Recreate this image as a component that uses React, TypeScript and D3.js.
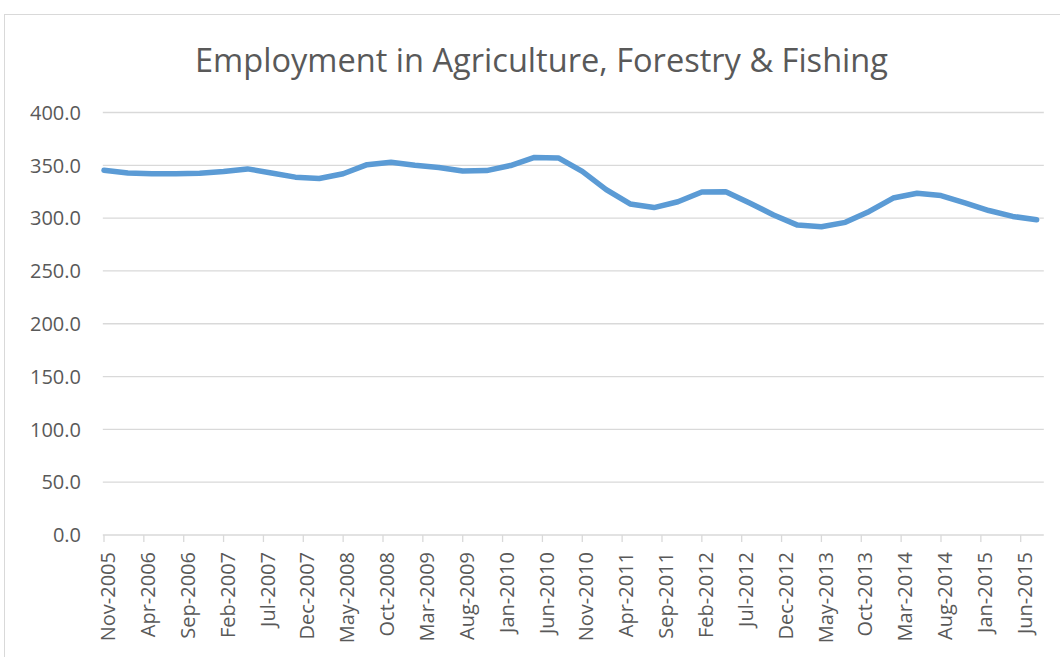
import React from "react";
import * as d3 from "d3";

const categories: string[] = [
  "Nov-2005", "Feb-2006", "May-2006", "Aug-2006", "Nov-2006", "Feb-2007", "May-2007", "Aug-2007",
  "Nov-2007", "Feb-2008", "May-2008", "Aug-2008", "Nov-2008", "Feb-2009", "May-2009", "Aug-2009",
  "Nov-2009", "Feb-2010", "May-2010", "Aug-2010", "Nov-2010", "Feb-2011", "May-2011", "Aug-2011",
  "Nov-2011", "Feb-2012", "May-2012", "Aug-2012", "Nov-2012", "Feb-2013", "May-2013", "Aug-2013",
  "Nov-2013", "Feb-2014", "May-2014", "Aug-2014", "Nov-2014", "Feb-2015", "May-2015", "Aug-2015",
];

const values: number[] = [
  345.3, 342.8, 341.9, 341.9, 342.5, 344.2, 346.6, 342.8,
  338.8, 337.5, 342.0, 350.6, 352.9, 350.0, 348.0, 344.6,
  345.0, 349.8, 357.5, 357.0, 344.3, 327.0, 313.4, 310.0,
  315.5, 324.8, 325.0, 314.3, 303.0, 293.4, 291.8, 296.0,
  306.3, 319.0, 323.6, 321.4, 314.5, 307.2, 301.6, 298.4,
];

const xTickLabels: string[] = [
  "Nov-2005", "Apr-2006", "Sep-2006", "Feb-2007", "Jul-2007", "Dec-2007", "May-2008", "Oct-2008",
  "Mar-2009", "Aug-2009", "Jan-2010", "Jun-2010", "Nov-2010", "Apr-2011", "Sep-2011", "Feb-2012",
  "Jul-2012", "Dec-2012", "May-2013", "Oct-2013", "Mar-2014", "Aug-2014", "Jan-2015", "Jun-2015",
];

const yTicks: number[] = [0, 50, 100, 150, 200, 250, 300, 350, 400];

const title = "Employment in Agriculture, Forestry & Fishing";

const MONTHS = ["Jan", "Feb", "Mar", "Apr", "May", "Jun", "Jul", "Aug", "Sep", "Oct", "Nov", "Dec"];
function monthIndex(label: string): number {
  const [m, y] = label.split("-");
  return (parseInt(y, 10) - 2005) * 12 + MONTHS.indexOf(m) - 10; // 0 = Nov-2005
}

export default function App() {
  const W = 1060;
  const H = 657;
  const x = d3.scaleLinear().domain([0, 115]).range([104, 1020.7]);
  const y = d3.scaleLinear().domain([0, 400]).range([535, 112.5]);
  const x0 = x(-0.15);
  const x1 = x(117.9);
  const font = "'Open Sans', 'DejaVu Sans', sans-serif";
  const textColor = "#595959";
  const grid = "#D9D9D9";

  const pts: [number, number][] = categories.map((c, i) => [x(monthIndex(c)), y(values[i])]);
  const line = d3
    .line<[number, number]>()
    .x((d) => d[0])
    .y((d) => d[1])
    .curve(d3.curveLinear);

  return (
    <svg
      width={W}
      height={H}
      style={{ position: "fixed", left: 0, top: 0, background: "#fff" }}
      xmlns="http://www.w3.org/2000/svg"
    >
      <rect x={0} y={0} width={W} height={H} fill="#fff" />
      <rect x={4.5} y={14.5} width={1200} height={800} fill="#fff" stroke={grid} strokeWidth={1} />
      <text
        x={541.5}
        y={72}
        textAnchor="middle"
        fontFamily={font}
        fontSize={32}
        fontWeight={400}
        fill={textColor}
        textLength={693}
        lengthAdjust="spacingAndGlyphs"
      >
        {title}
      </text>
      {yTicks.map((t) => (
        <g key={t}>
          {t > 0 && (
            <line x1={x0} x2={x1} y1={y(t)} y2={y(t)} stroke={grid} strokeWidth={1.3} />
          )}
          <text
            x={81}
            y={y(t)}
            dy="0.36em"
            textAnchor="end"
            fontFamily={font}
            fontSize={20}
            fill={textColor}
          >
            {t.toFixed(1)}
          </text>
        </g>
      ))}
      <line x1={x0} x2={x1} y1={y(0)} y2={y(0)} stroke={grid} strokeWidth={1.3} />
      {xTickLabels.map((l) => {
        const xv = x(monthIndex(l));
        return (
          <g key={l}>
            <line x1={xv} x2={xv} y1={y(0)} y2={y(0) + 7} stroke={grid} strokeWidth={1.3} />
            <text
              transform={`translate(${xv + 4},${y(0) + 17}) rotate(-90)`}
              dy="0.36em"
              textAnchor="end"
              fontFamily={font}
              fontSize={20}
              fill={textColor}
            >
              {l}
            </text>
          </g>
        );
      })}
      <path
        d={line(pts) || ""}
        fill="none"
        stroke="#5B9BD5"
        strokeWidth={5.5}
        strokeLinecap="round"
        strokeLinejoin="round"
      />
    </svg>
  );
}
